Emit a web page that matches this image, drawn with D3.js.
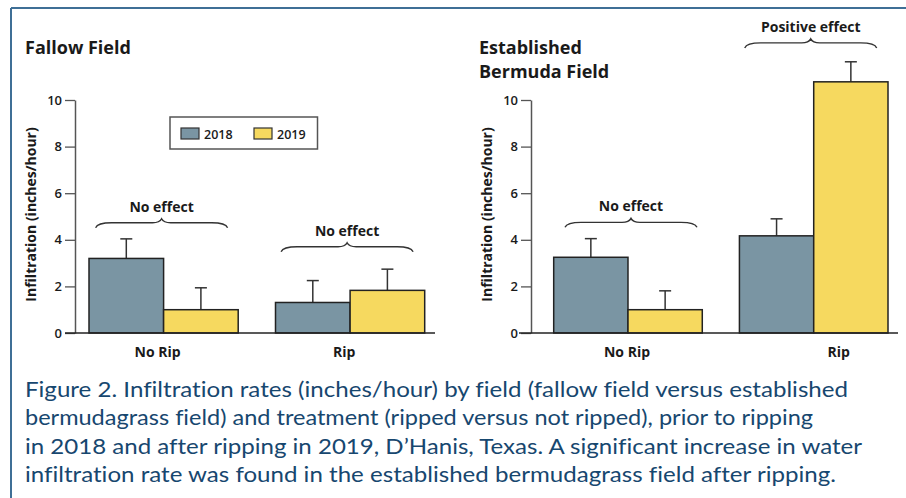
<!DOCTYPE html>
<html>
<head>
<meta charset="utf-8">
<script src="https://cdn.jsdelivr.net/npm/d3@7/dist/d3.min.js"></script>
<style>
  html, body { margin: 0; padding: 0; background: #fff; }
  svg { display: block; font-family: "Open Sans", sans-serif; font-variant-ligatures: none; }
</style>
</head>
<body>
<svg id="fig" width="906" height="498"></svg>
<script>
// Infiltration rates (inches/hour), mean and error, per treatment and year
const categories = ["No Rip", "Rip"];
const years = ["2018", "2019"];
const yTicks = [0, 2, 4, 6, 8, 10];

const fallowMeans = [[3.2, 1.0], [1.31, 1.83]];
const fallowErrors = [[0.84, 0.94], [0.94, 0.91]];
const fallowNotes = ["No effect", "No effect"];
const fallowNoteLevels = [4.73, 3.7];

const bermudaMeans = [[3.25, 1.0], [4.17, 10.78]];
const bermudaErrors = [[0.8, 0.81], [0.73, 0.86]];
const bermudaNotes = ["No effect", "Positive effect"];
const bermudaNoteLevels = [4.75, 12.45];

const yearColors = ["#7a95a3", "#f6d95f"];
const captionLines = [
  "Figure 2. Infiltration rates (inches/hour) by field (fallow field versus established",
  "bermudagrass field) and treatment (ripped versus not ripped), prior to ripping",
  "in 2018 and after ripping in 2019, D\u2019Hanis, Texas. A significant increase in water",
  "infiltration rate was found in the established bermudagrass field after ripping."
];
const captionWidths = [823, 788, 837, 811];

const svg = d3.select("#fig");

// outer frame: top and left rules
svg.append("line").attr("x1", 11).attr("x2", 906).attr("y1", 8).attr("y2", 8)
  .attr("stroke", "#3f6f96").attr("stroke-width", 2);
svg.append("line").attr("x1", 11).attr("x2", 11).attr("y1", 8).attr("y2", 498)
  .attr("stroke", "#3f6f96").attr("stroke-width", 2);

const panels = [
  { title: ["Fallow Field"], titleX: 25, axisX: 75, baseX0: 65, baseX1: 435,
    bars: [89, 424.7], means: fallowMeans, errors: fallowErrors,
    notes: fallowNotes, noteLevels: fallowNoteLevels, labelDx: [-6, -6],
    noteDx: [-2, -3], legend: true },
  { title: ["Established", "Bermuda Field"], titleX: 479, axisX: 531, baseX0: 519, baseX1: 898,
    bars: [553.7, 888], means: bermudaMeans, errors: bermudaErrors,
    notes: bermudaNotes, noteLevels: bermudaNoteLevels, labelDx: [-1, 25],
    noteDx: [3, -3], legend: false }
];

const y = d3.scaleLinear().domain([0, 10]).range([333, 100]);
const ink = "#1a1a1a";

function bracePath(x0, x1, yy) {
  const m = (x0 + x1) / 2;
  return `M${x0},${yy + 5} Q${x0 + 2},${yy} ${x0 + 16},${yy}` +
    ` L${m - 9},${yy} Q${m - 2},${yy} ${m},${yy - 4}` +
    ` Q${m + 2},${yy} ${m + 9},${yy} L${x1 - 16},${yy}` +
    ` Q${x1 - 2},${yy} ${x1},${yy + 5}`;
}

panels.forEach(p => {
  const g = svg.append("g");

  // title
  p.title.forEach((t, i) => {
    g.append("text").attr("x", p.titleX).attr("y", 54 + i * 24)
      .attr("font-size", 18).attr("font-weight", 700).attr("fill", ink).text(t);
  });

  const x = d3.scaleBand().domain(categories).range(p.bars).paddingInner(0.2).paddingOuter(0);
  const xs = d3.scaleBand().domain(years).range([0, x.bandwidth()]).padding(0);

  // y axis
  const axis = d3.axisLeft(y).tickValues(yTicks).tickSize(10).tickSizeOuter(0).tickPadding(3);
  const ag = g.append("g").attr("transform", `translate(${p.axisX},0)`).call(axis);
  ag.select(".domain").attr("stroke", "#555").attr("stroke-width", 1.5);
  ag.selectAll(".tick line").attr("stroke", "#555").attr("stroke-width", 1.3);
  ag.selectAll(".tick text").attr("font-size", 13).attr("font-weight", 600)
    .attr("fill", ink).attr("font-family", "'Open Sans', sans-serif");

  // axis title
  g.append("text")
    .attr("transform", `translate(${p.axisX - 39},${y(5) - 2}) rotate(-90)`)
    .attr("text-anchor", "middle").attr("font-size", 14).attr("font-weight", 700)
    .attr("fill", ink).text("Infiltration (inches/hour)");

  // bars
  categories.forEach((c, ci) => {
    const gx = x(c);
    years.forEach((yr, yi) => {
      const v = p.means[ci][yi];
      const e = p.errors[ci][yi];
      const bx = gx + xs(yr);
      const cx = bx + xs.bandwidth() / 2;
      // error bar (upper only)
      g.append("line").attr("x1", cx).attr("x2", cx).attr("y1", y(v)).attr("y2", y(v + e))
        .attr("stroke", "#333").attr("stroke-width", 1.5);
      g.append("line").attr("x1", cx - 6).attr("x2", cx + 6).attr("y1", y(v + e)).attr("y2", y(v + e))
        .attr("stroke", "#333").attr("stroke-width", 1.5);
      g.append("rect").attr("x", bx).attr("y", y(v))
        .attr("width", xs.bandwidth()).attr("height", y(0) - y(v))
        .attr("fill", yearColors[yi]).attr("stroke", "#222").attr("stroke-width", 1.5);
    });

    // category label
    g.append("text").attr("x", gx + x.bandwidth() / 2 + p.labelDx[ci]).attr("y", 357)
      .attr("text-anchor", "middle").attr("font-size", 14).attr("font-weight", 700)
      .attr("fill", ink).text(c);

    // brace annotation
    const bc = gx + x.bandwidth() / 2 + p.noteDx[ci];
    const by = y(p.noteLevels[ci]);
    g.append("path").attr("d", bracePath(bc - 66, bc + 66, by))
      .attr("fill", "none").attr("stroke", "#333").attr("stroke-width", 1.4);
    g.append("text").attr("x", bc).attr("y", by - 11).attr("text-anchor", "middle")
      .attr("font-size", 14).attr("font-weight", 700).attr("fill", ink)
      .text(p.notes[ci]);
  });

  // baseline
  g.append("line").attr("x1", p.baseX0).attr("x2", p.baseX1).attr("y1", y(0)).attr("y2", y(0))
    .attr("stroke", "#222").attr("stroke-width", 1.5);

  // legend
  if (p.legend) {
    const lg = g.append("g");
    lg.append("rect").attr("x", 170).attr("y", 117).attr("width", 147.5).attr("height", 32)
      .attr("fill", "#fff").attr("stroke", "#555").attr("stroke-width", 1.5);
    years.forEach((yr, i) => {
      const lx = 181 + i * 73;
      lg.append("rect").attr("x", lx).attr("y", 128).attr("width", 18).attr("height", 11)
        .attr("fill", yearColors[i]).attr("stroke", "#333").attr("stroke-width", 1.2);
      lg.append("text").attr("x", lx + 23).attr("y", 138.5).attr("font-size", 12.5)
        .attr("font-weight", 600).attr("fill", ink).text(yr);
    });
  }
});

// caption
const capG = svg.append("g");
captionLines.forEach((line, i) => {
  capG.append("text").attr("x", 25).attr("y", 397 + i * 28.3)
    .attr("font-size", 20.5).attr("fill", "#17476f")
    .attr("font-family", "Lato, sans-serif")
    .attr("textLength", captionWidths[i]).attr("lengthAdjust", "spacingAndGlyphs")
    .text(line);
});
</script>
</body>
</html>
